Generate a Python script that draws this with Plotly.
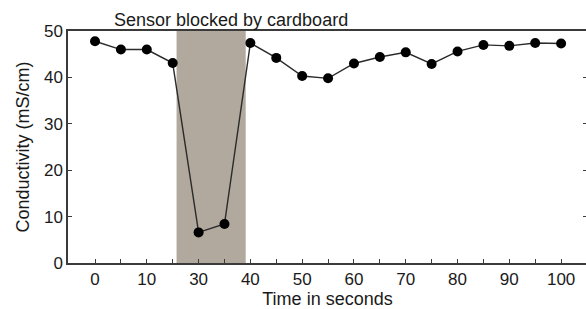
import plotly.graph_objects as go

times = ["0", "5", "10", "20", "30", "35", "40", "45", "50", "55", "60",
         "65", "70", "75", "80", "85", "90", "95", "100"]
conductivity = [47.8, 46.0, 46.0, 43.1, 6.6, 8.4, 47.4, 44.2, 40.3, 39.8, 43.0,
                44.4, 45.4, 42.9, 45.6, 47.0, 46.8, 47.4, 47.3]
tick_labels = [t if i % 2 == 0 else "" for i, t in enumerate(times)]
y_ticks = [0, 10, 20, 30, 40, 50]
blocked_start, blocked_end = 3.15, 5.82  # positions on category axis
blocked_label = "Sensor blocked by cardboard"

FONT = "Liberation Sans, Arial, sans-serif"
AX = "#3a3a3a"

fig = go.Figure()
fig.add_trace(go.Scatter(
    x=times, y=conductivity, mode="lines+markers",
    line=dict(color="#2b2b2b", width=1.4),
    marker=dict(color="black", size=10),
    showlegend=False, cliponaxis=False,
))

fig.add_shape(type="rect", xref="x", yref="paper",
              x0=blocked_start, x1=blocked_end, y0=0, y1=1,
              fillcolor="#b1a99d", line=dict(width=0), layer="below")

fig.add_annotation(text=blocked_label, xref="paper", yref="paper",
                   x=(231 - 68) / 518, y=(263 - 20) / 232,
                   xanchor="center", yanchor="middle", showarrow=False,
                   font=dict(family=FONT, size=18, color="#1a1a1a"))

fig.update_layout(
    width=587, height=309,
    margin=dict(l=68, r=0, t=31, b=46, autoexpand=False),
    paper_bgcolor="white", plot_bgcolor="white",
    font=dict(family=FONT, size=17, color="#1a1a1a"),
)
fig.update_xaxes(
    type="category", range=[-1.043, 19.0], automargin=False,
    tickmode="array", tickvals=times, ticktext=tick_labels,
    ticks="inside", ticklen=4, tickcolor=AX, tickwidth=1,
    showline=True, linecolor=AX, linewidth=1.5, mirror=True,
    showgrid=False, zeroline=False,
    title=dict(text="Time in seconds", font=dict(size=18), standoff=6),
    tickfont=dict(size=17),
)
fig.update_yaxes(
    range=[0, 50], tickmode="array", tickvals=y_ticks, automargin=False,
    ticks="inside", ticklen=4, tickcolor=AX, tickwidth=1,
    showline=True, linecolor=AX, linewidth=1.5, mirror="ticks",
    showgrid=False, zeroline=False,
    title=dict(text="Conductivity (mS/cm)", font=dict(size=18), standoff=10),
    tickfont=dict(size=17),
)

fig.write_html("out.html", config={"displayModeBar": False},
               post_script="document.body.style.margin='0';document.body.style.overflow='hidden';")
